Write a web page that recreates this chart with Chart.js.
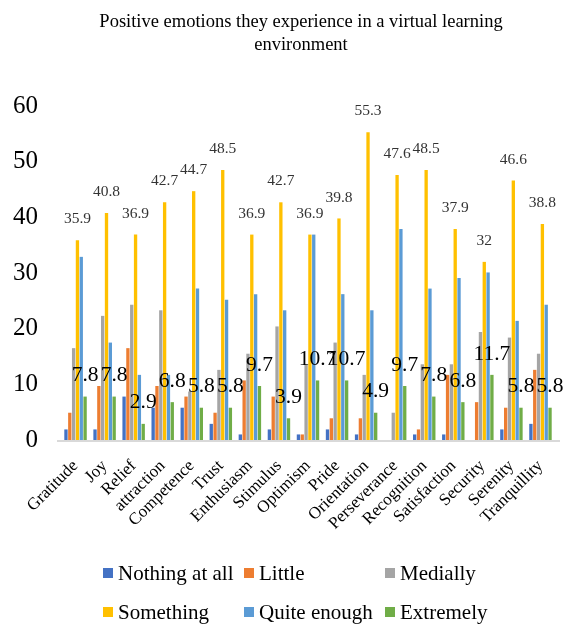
<!DOCTYPE html>
<html>
<head>
<meta charset="utf-8">
<script src="https://cdn.jsdelivr.net/npm/chart.js@4/dist/chart.umd.min.js"></script>
<style>
  html, body { margin: 0; padding: 0; background: #fff; }
  #wrap { position: relative; width: 571px; height: 624px; }
  #chart { position: absolute; left: 0; top: 0; }
  .legend { position: absolute; left: 0; top: 0; width: 571px; height: 624px; pointer-events: none;
            font-family: "Liberation Serif", "Times New Roman", serif; font-size: 21px; color: #000; }
  .item { position: absolute; display: flex; align-items: center; white-space: nowrap; height: 24px; }
  .box { width: 10px; height: 10px; margin-right: 5px; }
</style>
</head>
<body>
<div id="wrap">
  <canvas id="chart" width="571" height="624"></canvas>
  <div class="legend" id="legend"></div>
</div>
<script>
const categories = ["Gratitude", "Joy", "Relief", "attraction", "Competence", "Trust", "Enthusiasm",
  "Stimulus", "Optimism", "Pride", "Orientation", "Perseverance", "Recognition", "Satisfaction",
  "Security", "Serenity", "Tranquillity"];

const seriesNames = ["Nothing at all", "Little", "Medially", "Something", "Quite enough", "Extremely"];
const seriesColors = ["#4472C4", "#ED7D31", "#A5A5A5", "#FFC000", "#5B9BD5", "#70AD47"];

const nothingAtAll = [1.9, 1.9, 7.8, 5.8, 5.8, 2.9, 1.0, 1.9, 1.0, 1.9, 1.0, 0, 1.0, 1.0, 0, 1.9, 2.9];
const little       = [4.9, 9.7, 16.5, 9.7, 7.8, 4.9, 10.7, 7.8, 1.0, 3.9, 3.9, 0, 1.9, 11.7, 6.8, 5.8, 12.6];
const medially     = [16.5, 22.3, 24.3, 23.3, 8.7, 12.6, 15.5, 20.4, 13.6, 17.5, 11.7, 4.9, 13.6, 13.6, 19.4, 18.4, 15.5];
const something    = [35.9, 40.8, 36.9, 42.7, 44.7, 48.5, 36.9, 42.7, 36.9, 39.8, 55.3, 47.6, 48.5, 37.9, 32, 46.6, 38.8];
const quiteEnough  = [32.9, 17.5, 11.7, 11.7, 27.2, 25.2, 26.2, 23.3, 36.9, 26.2, 23.3, 37.9, 27.2, 29.1, 30.1, 21.4, 24.3];
const extremely    = [7.8, 7.8, 2.9, 6.8, 5.8, 5.8, 9.7, 3.9, 10.7, 10.7, 4.9, 9.7, 7.8, 6.8, 11.7, 5.8, 5.8];

const yTicks = [0, 10, 20, 30, 40, 50, 60];
const titleLines = ["Positive emotions they experience in a virtual learning", "environment"];

const seriesValues = [nothingAtAll, little, medially, something, quiteEnough, extremely];

const SERIF = '"Liberation Serif", "Times New Roman", serif';

// Value labels above the "Something" and "Extremely" bars
const valueLabels = {
  id: 'valueLabels',
  afterDatasetsDraw(chart) {
    const ctx = chart.ctx;
    const styles = { 3: { size: 15.5, color: '#333' }, 5: { size: 21.5, color: '#000' } };
    ctx.save();
    ctx.textAlign = 'center';
    ctx.textBaseline = 'middle';
    Object.keys(styles).forEach(k => {
      const i = Number(k);
      const meta = chart.getDatasetMeta(i);
      ctx.font = styles[i].size + 'px ' + SERIF;
      ctx.fillStyle = styles[i].color;
      meta.data.forEach((bar, j) => {
        ctx.fillText(String(chart.data.datasets[i].data[j]), bar.x, bar.y - 21);
      });
    });
    ctx.restore();
  }
};

// Two-line heading centred above the plot
const heading = {
  id: 'heading',
  afterDraw(chart) {
    const ctx = chart.ctx;
    ctx.save();
    ctx.font = '18.5px ' + SERIF;
    ctx.fillStyle = '#000';
    ctx.textAlign = 'center';
    ctx.textBaseline = 'middle';
    titleLines.forEach((t, i) => ctx.fillText(t, 301, 22 + i * 23));
    ctx.restore();
  }
};

// Light axis line under the whole plot width
const baseLine = {
  id: 'baseLine',
  beforeDatasetsDraw(chart) {
    const { ctx, chartArea } = chart;
    const y = chart.scales.y.getPixelForValue(0);
    ctx.save();
    ctx.strokeStyle = '#d9d9d9';
    ctx.lineWidth = 2;
    ctx.beginPath();
    ctx.moveTo(chartArea.left - 4, y + 1);
    ctx.lineTo(chartArea.right + 5, y + 1);
    ctx.stroke();
    ctx.restore();
  }
};

new Chart(document.getElementById('chart'), {
  type: 'bar',
  data: {
    labels: categories,
    datasets: seriesNames.map((name, i) => ({
      label: name,
      data: seriesValues[i],
      backgroundColor: seriesColors[i],
      categoryPercentage: 0.79,
      barPercentage: 0.87
    }))
  },
  options: {
    responsive: false,
    animation: false,
    layout: { padding: { top: 106, right: 16, left: 0, bottom: 0 } },
    plugins: {
      legend: { display: false },
      title: { display: false },
      tooltip: { enabled: false }
    },
    scales: {
      x: {
        grid: { display: false },
        border: { display: false },
        ticks: {
          color: '#000',
          font: { family: SERIF, size: 17 },
          maxRotation: 45, minRotation: 45,
          autoSkip: false,
          padding: 8
        },
        afterFit(scale) { scale.height = 184; }
      },
      y: {
        min: 0, max: 60,
        grid: { display: false },
        border: { display: false },
        afterBuildTicks(scale) { scale.ticks = yTicks.map(v => ({ value: v })); },
        ticks: {
          color: '#000',
          font: { family: SERIF, size: 25 },
          padding: 15
        },
        afterFit(scale) { scale.width = 61; }
      }
    }
  },
  plugins: [baseLine, valueLabels, heading]
});

// Legend laid out in three columns
const legendEl = document.getElementById('legend');
const colX = [103, 244, 385];
const rowY = [561, 600];
seriesNames.forEach((name, i) => {
  const item = document.createElement('div');
  item.className = 'item';
  item.style.left = colX[i % 3] + 'px';
  item.style.top = rowY[Math.floor(i / 3)] + 'px';
  item.innerHTML = '<span class="box" style="background:' + seriesColors[i] + '"></span><span>' + name + '</span>';
  legendEl.appendChild(item);
});
</script>
</body>
</html>
